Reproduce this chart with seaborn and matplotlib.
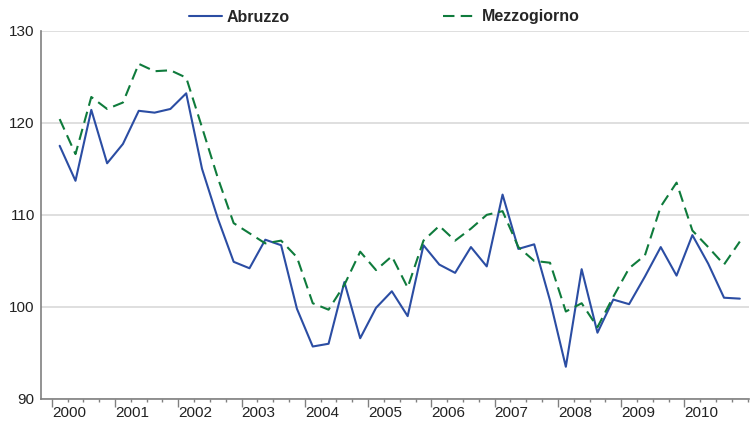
import numpy as np
import pandas as pd
import matplotlib
matplotlib.use("Agg")
import matplotlib.pyplot as plt
from matplotlib.ticker import FixedLocator
import seaborn as sns

years = list(range(2000, 2011))
quarters = [1, 2, 3, 4]
year_labels = [str(y) for y in years]

abruzzo = [117.5, 113.7, 121.4, 115.6,
           117.7, 121.3, 121.1, 121.5,
           123.2, 115.0, 109.6, 104.9,
           104.2, 107.3, 106.7, 99.8,
           95.7, 96.0, 102.7, 96.6,
           99.9, 101.7, 99.0, 106.7,
           104.6, 103.7, 106.5, 104.4,
           112.2, 106.3, 106.8, 100.7,
           93.5, 104.1, 97.2, 100.8,
           100.3, 103.3, 106.5, 103.4,
           107.8, 104.7, 101.0, 100.9]

mezzogiorno = [120.4, 116.6, 122.8, 121.5,
               122.2, 126.4, 125.6, 125.7,
               124.9, 119.5, 114.0, 109.1,
               108.0, 106.9, 107.2, 105.4,
               100.4, 99.7, 102.4, 106.0,
               104.0, 105.5, 102.1, 107.2,
               108.8, 107.2, 108.5, 110.0,
               110.4, 106.5, 105.0, 104.8,
               99.5, 100.4, 97.8, 101.1,
               104.2, 105.6, 110.9, 113.5,
               108.3, 106.5, 104.6, 107.1]

series_names = ["Abruzzo", "Mezzogiorno"]
y_ticks = [90, 100, 110, 120, 130]

xpos = [y + (q - 0.5) / 4 for y in years for q in quarters]
df = pd.DataFrame({
    "t": xpos * 2,
    "value": abruzzo + mezzogiorno,
    "serie": [series_names[0]] * len(abruzzo) + [series_names[1]] * len(mezzogiorno),
})

sns.set_style("white")
plt.rcParams["font.family"] = ["Liberation Sans", "DejaVu Sans"]

W, H = 750, 421
fig = plt.figure(figsize=(W / 100, H / 100), dpi=100)
ax = fig.add_axes([41 / W, 1 - 399 / H, (749 - 41) / W, (399 - 30.7) / H])

palette = {"Abruzzo": "#2B4DA3", "Mezzogiorno": "#0F7B3C"}
dashes = {"Abruzzo": "", "Mezzogiorno": (5.5, 3)}
sns.lineplot(data=df, x="t", y="value", hue="serie", style="serie",
             palette=palette, dashes=dashes, linewidth=1.5, ax=ax, legend=True)

ax.set_xlim(1999.83, 2011.02)
ax.set_ylim(90, 130)
ax.set_yticks(y_ticks)
ax.set_yticklabels([str(v) for v in y_ticks])
ax.set_xticks(years)
ax.set_xticklabels(year_labels, ha="left")
ax.xaxis.set_minor_locator(FixedLocator([y + q / 4 for y in years for q in quarters]))
ax.set_xlabel("")
ax.set_ylabel("")

ax.grid(axis="y", color="#d9d9d9", linewidth=1.2)
ax.grid(axis="x", visible=False)
ax.set_axisbelow(True)
for s in ["top", "right"]:
    ax.spines[s].set_visible(False)
for s in ["left", "bottom"]:
    ax.spines[s].set_color("#808080")
    ax.spines[s].set_linewidth(1.2)

ax.tick_params(axis="y", which="major", direction="out", length=3.5, width=1,
               color="#808080", labelsize=11, labelcolor="#222222", pad=1)
ax.tick_params(axis="x", which="major", direction="out", length=6, width=1,
               color="#808080", labelsize=11, labelcolor="#222222", pad=-1)
ax.tick_params(axis="x", which="minor", direction="out", length=2.5, width=1,
               color="#808080", bottom=True)
ax.tick_params(axis="x", which="both", bottom=True)

leg = ax.get_legend()
handles, labels = ax.get_legend_handles_labels()
leg.remove()
fig.legend(handles, labels, loc="center", bbox_to_anchor=(384 / W, 1 - 17 / H),
           ncol=2, frameon=False, handlelength=2.1, handletextpad=0.3,
           columnspacing=9.6, prop={"weight": "bold", "size": 11.5},
           borderaxespad=0, borderpad=0)

fig.savefig("out.png", dpi=100)
